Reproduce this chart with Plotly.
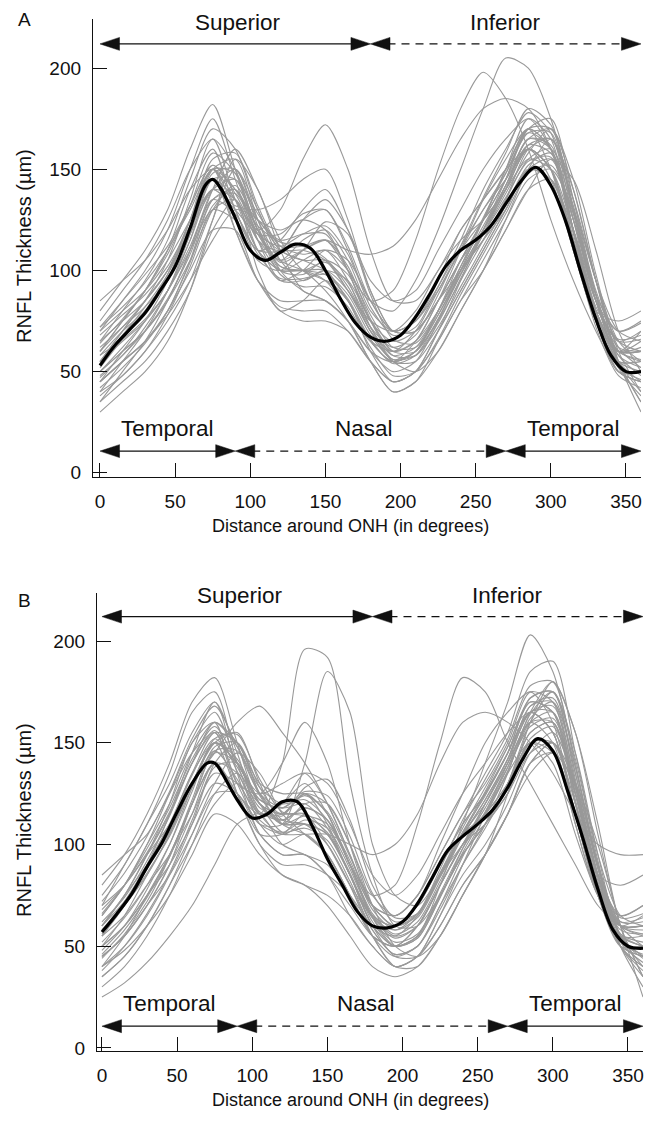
import plotly.graph_objects as go

# sample positions (degrees around the ONH)
DEG = [0, 15, 30, 45, 60, 75, 90, 105, 120, 135, 150, 165, 180,
       195, 210, 225, 240, 255, 270, 285, 300, 315, 330, 345, 360]
MEAN_DEG = [0, 10, 20, 30, 40, 50, 60, 70, 75, 80, 90, 100, 110, 120, 130, 140,
            150, 160, 170, 180, 190, 200, 210, 220, 230, 240, 250, 260, 270,
            280, 290, 300, 310, 320, 330, 340, 350, 360]

mean_a = [53, 63, 71, 79, 90, 102, 121, 142, 145, 141, 126, 110, 105, 109, 113, 111,
          100, 86, 74, 67, 65, 68, 77, 89, 102, 110, 115, 122, 133,
          144, 151, 142, 124, 99, 76, 58, 50, 50]
mean_b = [57, 66, 76, 89, 101, 116, 130, 140, 140, 135, 122, 113, 115, 121, 121, 109,
          93, 80, 67, 60, 59, 62, 71, 84, 97, 104, 110, 117, 128,
          142, 152, 146, 126, 103, 78, 58, 50, 49]

eyes_a = [
    [55, 70, 85, 105, 135, 165, 150, 120, 105, 115, 120, 105, 80, 70, 75, 95, 120, 135, 150, 170, 160, 120, 80, 60, 55],
    [45, 55, 65, 80, 105, 135, 140, 115, 100, 105, 110, 95, 70, 60, 70, 90, 110, 125, 140, 160, 150, 115, 75, 50, 45],
    [70, 85, 100, 120, 150, 175, 145, 115, 110, 125, 130, 110, 85, 80, 95, 120, 150, 180, 205, 200, 175, 135, 95, 70, 65],
    [40, 48, 60, 75, 95, 125, 150, 130, 105, 95, 100, 95, 75, 60, 65, 85, 105, 125, 145, 165, 170, 140, 95, 60, 40],
    [60, 75, 90, 110, 140, 160, 130, 110, 115, 130, 140, 120, 90, 70, 70, 85, 100, 115, 130, 150, 145, 115, 80, 60, 60],
    [50, 60, 70, 85, 110, 140, 160, 140, 115, 100, 95, 85, 65, 55, 60, 80, 100, 115, 135, 160, 165, 130, 85, 55, 45],
    [80, 95, 110, 130, 160, 182, 150, 120, 110, 110, 105, 90, 75, 70, 80, 100, 115, 125, 140, 155, 150, 120, 85, 70, 75],
    [35, 45, 55, 70, 90, 120, 135, 100, 80, 85, 95, 85, 60, 45, 50, 70, 90, 110, 130, 150, 155, 125, 85, 55, 35],
    [65, 75, 85, 100, 125, 150, 140, 125, 120, 125, 120, 100, 75, 65, 70, 85, 105, 125, 150, 175, 165, 120, 80, 60, 65],
    [45, 60, 75, 95, 125, 150, 130, 105, 100, 110, 115, 100, 85, 90, 115, 150, 180, 198, 185, 160, 125, 95, 70, 50, 45],
    [55, 70, 85, 100, 120, 145, 135, 110, 100, 100, 100, 85, 65, 55, 60, 75, 95, 115, 135, 155, 160, 135, 95, 65, 55],
    [30, 40, 50, 65, 90, 125, 155, 140, 110, 90, 85, 75, 55, 40, 45, 65, 85, 105, 125, 145, 150, 130, 95, 55, 30],
    [75, 90, 105, 125, 150, 165, 135, 110, 100, 100, 95, 80, 65, 60, 65, 80, 100, 120, 140, 160, 150, 110, 75, 60, 70],
    [60, 72, 85, 100, 120, 140, 132, 130, 135, 145, 150, 125, 90, 70, 70, 85, 105, 120, 140, 165, 160, 120, 80, 60, 60],
    [50, 60, 70, 85, 105, 130, 135, 110, 95, 100, 110, 105, 85, 70, 75, 90, 110, 130, 145, 160, 150, 115, 75, 50, 50],
    [40, 55, 70, 90, 115, 145, 145, 115, 95, 95, 100, 90, 70, 55, 55, 70, 90, 110, 130, 150, 145, 120, 85, 55, 40],
    [65, 80, 95, 115, 145, 170, 160, 130, 110, 105, 100, 85, 65, 55, 60, 80, 105, 125, 145, 170, 175, 135, 90, 65, 60],
    [55, 65, 75, 90, 110, 130, 125, 110, 110, 125, 135, 120, 95, 85, 90, 110, 130, 150, 165, 175, 160, 120, 80, 55, 55],
    [45, 55, 65, 80, 100, 120, 120, 95, 82, 80, 80, 70, 55, 45, 50, 65, 85, 100, 120, 140, 145, 115, 75, 50, 45],
    [85, 95, 105, 120, 140, 150, 120, 95, 85, 85, 85, 75, 60, 55, 65, 85, 110, 135, 155, 170, 150, 110, 80, 75, 80],
    [35, 50, 65, 85, 110, 140, 150, 125, 105, 100, 90, 75, 55, 40, 45, 60, 80, 100, 125, 150, 165, 140, 95, 55, 35],
    [60, 75, 90, 110, 130, 150, 135, 120, 130, 155, 172, 150, 110, 85, 85, 100, 120, 135, 150, 160, 145, 110, 75, 60, 60],
    [50, 62, 75, 90, 115, 140, 135, 115, 105, 110, 115, 110, 108, 112, 125, 145, 165, 180, 185, 180, 160, 120, 80, 55, 50],
    [70, 80, 90, 105, 125, 145, 120, 95, 80, 75, 75, 70, 55, 45, 50, 70, 95, 120, 145, 170, 170, 130, 85, 65, 70],
    [45, 55, 65, 78, 95, 115, 130, 125, 110, 105, 105, 90, 70, 55, 50, 60, 80, 100, 120, 140, 155, 145, 110, 70, 50],
    [58, 70, 80, 95, 120, 150, 155, 125, 100, 90, 85, 75, 60, 50, 55, 75, 100, 125, 150, 170, 160, 115, 75, 55, 55],
    [62, 72, 82, 95, 118, 140, 145, 128, 112, 108, 110, 100, 78, 62, 62, 78, 100, 120, 142, 162, 158, 125, 85, 62, 60],
    [48, 58, 72, 90, 118, 148, 150, 122, 100, 98, 105, 98, 75, 58, 58, 72, 92, 112, 132, 152, 158, 130, 88, 58, 48],
    [72, 85, 98, 112, 132, 152, 138, 118, 112, 118, 122, 108, 82, 68, 72, 92, 115, 140, 160, 178, 168, 125, 82, 66, 68],
    [38, 48, 60, 78, 102, 130, 142, 120, 98, 92, 92, 82, 62, 48, 50, 66, 88, 108, 128, 148, 152, 128, 88, 52, 38],
    [55, 68, 82, 98, 122, 150, 148, 125, 115, 118, 118, 100, 72, 58, 62, 80, 102, 122, 142, 162, 165, 132, 88, 58, 52],
    [68, 78, 88, 102, 122, 140, 130, 118, 118, 128, 130, 112, 85, 70, 75, 92, 112, 130, 148, 168, 168, 128, 85, 65, 66],
    [42, 52, 64, 80, 104, 132, 140, 118, 102, 100, 104, 94, 72, 56, 58, 74, 96, 118, 140, 160, 150, 112, 72, 48, 42],
    [58, 66, 76, 90, 112, 135, 128, 108, 96, 96, 98, 88, 68, 56, 60, 78, 98, 118, 136, 154, 156, 125, 88, 60, 56],
    [52, 66, 80, 98, 125, 155, 158, 132, 112, 112, 115, 102, 76, 60, 60, 76, 98, 118, 138, 158, 170, 145, 98, 62, 52],
    [64, 76, 90, 108, 132, 158, 148, 120, 102, 100, 98, 86, 66, 54, 58, 76, 98, 120, 142, 165, 162, 120, 78, 60, 62],
    [47, 58, 70, 86, 108, 135, 138, 118, 104, 110, 124, 118, 88, 66, 64, 80, 102, 126, 148, 168, 160, 118, 76, 52, 46],
    [72, 82, 94, 110, 132, 152, 140, 122, 114, 112, 106, 92, 72, 62, 68, 88, 112, 136, 158, 180, 172, 130, 88, 70, 74],
]

eyes_b = [
    [55, 70, 90, 115, 145, 170, 145, 115, 115, 125, 110, 85, 65, 60, 70, 90, 110, 125, 145, 170, 165, 120, 75, 50, 45],
    [45, 55, 70, 90, 115, 140, 135, 110, 100, 105, 95, 75, 55, 50, 60, 80, 100, 115, 130, 155, 160, 125, 80, 50, 40],
    [70, 90, 110, 135, 165, 175, 140, 115, 120, 130, 115, 90, 70, 65, 75, 95, 115, 130, 150, 175, 170, 125, 80, 60, 60],
    [40, 50, 65, 85, 110, 140, 150, 125, 115, 125, 115, 90, 65, 55, 60, 80, 100, 110, 125, 145, 150, 120, 80, 50, 35],
    [60, 75, 95, 120, 150, 160, 130, 125, 140, 160, 140, 100, 70, 60, 70, 90, 110, 125, 145, 165, 155, 115, 75, 55, 55],
    [50, 65, 85, 105, 130, 150, 155, 130, 110, 105, 95, 75, 55, 50, 55, 75, 95, 110, 130, 160, 175, 145, 95, 55, 45],
    [80, 95, 115, 140, 170, 182, 150, 120, 115, 115, 100, 80, 65, 60, 70, 90, 105, 115, 130, 150, 145, 110, 75, 65, 70],
    [30, 40, 55, 75, 100, 125, 135, 120, 110, 110, 100, 80, 55, 40, 45, 65, 85, 100, 120, 145, 155, 130, 85, 50, 30],
    [65, 80, 100, 125, 150, 165, 140, 125, 130, 135, 120, 95, 70, 65, 75, 95, 115, 135, 155, 185, 190, 145, 95, 65, 60],
    [45, 55, 70, 90, 120, 140, 125, 115, 140, 196, 192, 130, 85, 60, 60, 75, 95, 110, 130, 155, 160, 125, 85, 55, 45],
    [55, 70, 85, 105, 130, 150, 140, 120, 115, 125, 120, 100, 75, 65, 75, 100, 125, 150, 165, 175, 160, 115, 75, 55, 50],
    [35, 45, 60, 80, 105, 130, 145, 135, 115, 105, 95, 75, 55, 45, 50, 70, 90, 110, 135, 165, 180, 155, 110, 60, 35],
    [75, 90, 110, 130, 155, 170, 135, 105, 95, 95, 85, 70, 55, 50, 60, 80, 100, 120, 140, 160, 150, 110, 75, 60, 65],
    [60, 75, 90, 110, 130, 145, 160, 168, 155, 140, 120, 95, 70, 60, 65, 85, 105, 120, 140, 160, 160, 120, 80, 60, 55],
    [50, 60, 75, 95, 120, 145, 140, 115, 105, 110, 105, 85, 60, 50, 55, 75, 95, 110, 125, 150, 150, 115, 75, 50, 50],
    [40, 55, 75, 95, 120, 140, 125, 105, 105, 115, 105, 85, 60, 45, 45, 60, 80, 95, 115, 140, 150, 130, 90, 55, 40],
    [65, 80, 100, 120, 145, 160, 150, 130, 125, 125, 115, 90, 75, 80, 110, 150, 182, 175, 150, 130, 110, 90, 70, 60, 60],
    [55, 65, 80, 95, 115, 135, 130, 115, 120, 135, 130, 110, 85, 75, 85, 105, 125, 140, 155, 165, 155, 115, 75, 55, 50],
    [45, 55, 70, 85, 105, 125, 125, 105, 95, 95, 85, 65, 50, 40, 45, 60, 80, 95, 115, 140, 145, 115, 75, 50, 45],
    [85, 95, 105, 125, 145, 155, 125, 100, 90, 90, 85, 75, 60, 55, 65, 85, 105, 125, 145, 165, 155, 115, 85, 80, 85],
    [35, 45, 60, 80, 100, 120, 130, 120, 110, 120, 120, 100, 70, 50, 45, 55, 75, 95, 125, 160, 180, 155, 105, 60, 35],
    [60, 75, 95, 115, 140, 155, 130, 110, 110, 140, 185, 165, 100, 75, 70, 85, 100, 115, 135, 150, 140, 105, 75, 60, 60],
    [50, 60, 75, 90, 110, 130, 125, 110, 105, 105, 105, 100, 95, 100, 115, 140, 160, 165, 160, 150, 135, 115, 100, 95, 95],
    [70, 80, 95, 110, 135, 150, 125, 100, 85, 80, 75, 65, 50, 40, 45, 65, 90, 115, 140, 165, 165, 125, 85, 65, 70],
    [25, 32, 42, 55, 70, 90, 110, 115, 100, 95, 90, 75, 55, 40, 40, 55, 75, 95, 115, 135, 145, 130, 100, 60, 25],
    [58, 72, 90, 110, 135, 155, 150, 125, 110, 110, 105, 85, 60, 50, 55, 80, 110, 140, 170, 203, 185, 140, 90, 60, 50],
    [40, 48, 60, 75, 95, 115, 110, 95, 85, 80, 70, 55, 40, 35, 40, 55, 75, 95, 115, 140, 150, 125, 85, 50, 40],
    [62, 74, 92, 114, 140, 160, 148, 128, 120, 122, 112, 90, 66, 56, 62, 82, 104, 122, 142, 165, 168, 130, 85, 60, 58],
    [48, 60, 78, 100, 128, 150, 142, 120, 112, 118, 112, 90, 64, 52, 56, 76, 98, 116, 136, 160, 165, 128, 82, 52, 46],
    [72, 86, 104, 126, 152, 168, 148, 125, 118, 120, 108, 85, 64, 58, 66, 86, 106, 124, 145, 172, 175, 132, 85, 64, 66],
    [38, 50, 66, 86, 112, 138, 140, 120, 106, 108, 102, 82, 58, 46, 50, 68, 90, 108, 128, 152, 158, 128, 84, 50, 38],
    [56, 70, 88, 108, 134, 152, 138, 118, 114, 128, 132, 112, 80, 64, 66, 84, 104, 122, 142, 168, 170, 130, 84, 56, 52],
    [66, 80, 98, 118, 142, 158, 140, 122, 118, 124, 116, 94, 70, 60, 66, 88, 112, 132, 152, 178, 180, 138, 90, 62, 62],
    [44, 56, 72, 94, 122, 148, 150, 128, 112, 110, 100, 80, 58, 46, 50, 70, 94, 114, 136, 162, 170, 138, 90, 52, 42],
    [58, 70, 86, 104, 128, 146, 132, 112, 106, 112, 108, 88, 64, 54, 60, 80, 100, 118, 138, 158, 162, 128, 84, 58, 56],
    [52, 64, 80, 100, 126, 152, 154, 132, 116, 114, 106, 86, 62, 50, 54, 74, 98, 120, 142, 168, 172, 135, 88, 56, 50],
    [68, 80, 96, 116, 140, 156, 136, 116, 112, 118, 112, 92, 68, 58, 64, 84, 106, 126, 148, 170, 165, 122, 80, 62, 64],
    [46, 58, 74, 94, 120, 146, 146, 124, 110, 114, 110, 90, 64, 50, 54, 74, 96, 116, 138, 164, 175, 142, 92, 54, 44],
    [60, 72, 88, 106, 130, 150, 140, 122, 118, 126, 124, 104, 76, 62, 66, 86, 108, 128, 148, 172, 175, 135, 88, 60, 56],
]

# region arrows: (label, start, end, dash)
top_regions = [("Superior", 0, 180, "solid"), ("Inferior", 180, 360, "8px,6px")]
bottom_regions = [("Temporal", 0, 90, "solid"), ("Nasal", 90, 270, "8px,6px"),
                  ("Temporal", 270, 360, "solid")]
label_x = {"Superior": 92, "Inferior": 270, "Nasal": 176}

FONT = "Liberation Sans, Arial, sans-serif"
W = 647.0
H = 1130.0


def px_x(p):
    return p / W


def px_y(p):
    return 1 - p / H


fig = go.Figure()

panels = [("x", "y", eyes_a, mean_a), ("x2", "y2", eyes_b, mean_b)]
for xa, ya, eyes, mean in panels:
    for e in eyes:
        fig.add_trace(go.Scatter(x=DEG, y=e, mode="lines", xaxis=xa, yaxis=ya,
                                 line=dict(color="#999999", width=1.1, shape="spline", smoothing=0.8),
                                 hoverinfo="skip", showlegend=False))
    fig.add_trace(go.Scatter(x=MEAN_DEG, y=mean, mode="lines", xaxis=xa, yaxis=ya,
                             line=dict(color="black", width=3.2, shape="spline", smoothing=1.0),
                             showlegend=False))

shapes = []
annotations = []
HEAD_L = 13
HEAD_H = 3.2
for xa, ya in [("x", "y"), ("x2", "y2")]:
    for regions, ay, ty in [(top_regions, 212, 222.5), (bottom_regions, 10.7, 21.8)]:
        for name, x0, x1, dash in regions:
            shapes.append(dict(type="line", xref=xa, yref=ya, x0=x0 + 2, x1=x1 - 2, y0=ay, y1=ay,
                               line=dict(color="#111", width=1.3, dash=dash)))
            for tip, back in [(x0, x0 + HEAD_L), (x1, x1 - HEAD_L)]:
                shapes.append(dict(type="path", xref=xa, yref=ya, fillcolor="#111",
                                   line=dict(color="#111", width=0.5),
                                   path=f"M {tip},{ay} L {back},{ay + HEAD_H} L {back},{ay - HEAD_H} Z"))
            cx = label_x.get(name, (x0 + x1) / 2)
            annotations.append(dict(text=name, x=cx, y=ty, xref=xa, yref=ya, showarrow=False,
                                    xanchor="center", yanchor="middle",
                                    font=dict(size=22.5, color="#111", family=FONT)))

for letter, ypx in [("A", 19.5), ("B", 600)]:
    annotations.append(dict(text=letter, x=px_x(16), y=px_y(ypx), xref="paper", yref="paper",
                            showarrow=False, xanchor="left", yanchor="middle",
                            font=dict(size=19, color="#111", family=FONT)))
for ypx in [246, 820]:
    annotations.append(dict(text="RNFL Thickness (µm)", x=px_x(24), y=px_y(ypx),
                            xref="paper", yref="paper", showarrow=False, textangle=-90,
                            xanchor="center", yanchor="middle",
                            font=dict(size=20, color="#111", family=FONT)))
for ypx in [526, 1100]:
    annotations.append(dict(text="Distance around ONH (in degrees)", x=px_x(350), y=px_y(ypx),
                            xref="paper", yref="paper", showarrow=False,
                            xanchor="center", yanchor="middle",
                            font=dict(size=18, color="#111", family=FONT)))

axis_common = dict(showgrid=False, zeroline=False, showline=True, linecolor="#111", linewidth=1.3,
                   ticks="inside", ticklen=14, tickwidth=1.3, tickcolor="#111",
                   tickfont=dict(size=19, color="#111", family=FONT), automargin=False)

fig.update_layout(
    width=W, height=H,
    margin=dict(l=0, r=0, t=0, b=0),
    paper_bgcolor="white", plot_bgcolor="white",
    showlegend=False,
    shapes=shapes, annotations=annotations,
    xaxis=dict(domain=[px_x(93), px_x(641)], range=[-4.65, 360], anchor="y",
               tickvals=[0, 50, 100, 150, 200, 250, 300, 350], ticklabelstandoff=7, **axis_common),
    yaxis=dict(domain=[px_y(477), px_y(19)], range=[-2.1, 224.3], anchor="x",
               tickvals=[0, 50, 100, 150, 200], ticklabelstandoff=7, **axis_common),
    xaxis2=dict(domain=[px_x(97), px_x(643)], range=[-3.3, 360], anchor="y2",
                tickvals=[0, 50, 100, 150, 200, 250, 300, 350], ticklabelstandoff=7, **axis_common),
    yaxis2=dict(domain=[px_y(1051), px_y(593)], range=[-1.5, 223.6], anchor="x2",
                tickvals=[0, 50, 100, 150, 200], ticklabelstandoff=7, **axis_common),
)

# drop the default page margin so the figure fills the window exactly
fig.write_html("out.html", config={"displayModeBar": False},
               post_script="document.body.style.margin='0';document.body.style.overflow='hidden';")
